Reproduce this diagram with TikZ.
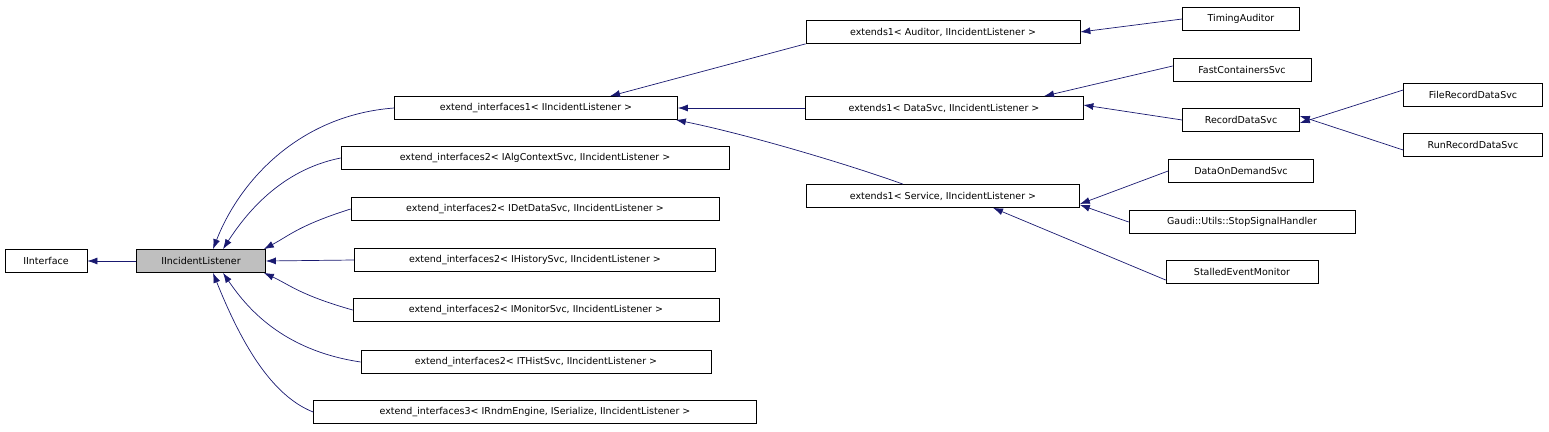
\documentclass[tikz,border=0pt]{standalone}
\usepackage{fontspec}
\setmainfont{DejaVu Sans}
\usetikzlibrary{arrows.meta}
\definecolor{edgec}{RGB}{25,25,112}
\begin{document}
\begin{tikzpicture}[x=1pt,y=-1pt,
  box/.style={draw=black,fill=white,inner sep=0pt,font=\fontsize{9.5}{11}\selectfont,minimum height=23pt,line width=0.7pt},
  edge/.style={draw=edgec,line width=0.7pt,-{Latex[length=10pt,width=7pt]}}]
\useasboundingbox (0,0) rectangle (1549,431);
\newcommand\bx[5]{\node[box,minimum width=#4pt] (#1) at (#2,#3) {#5};}
\bx{ii}{46}{261}{82}{IInterface}
\node[box,minimum width=129pt,fill={rgb,255:red,191;green,191;blue,191}] (il) at (201,261) {IIncidentListener};
\bx{ei1}{536}{108}{283}{extend\_interfaces1< IIncidentListener >}
\bx{eac}{535}{158}{388}{extend\_interfaces2< IAlgContextSvc, IIncidentListener >}
\bx{edd}{535}{209}{368}{extend\_interfaces2< IDetDataSvc, IIncidentListener >}
\bx{ehs}{535}{260}{361}{extend\_interfaces2< IHistorySvc, IIncidentListener >}
\bx{ems}{536}{310}{366}{extend\_interfaces2< IMonitorSvc, IIncidentListener >}
\bx{eth}{536}{362}{350}{extend\_interfaces2< ITHistSvc, IIncidentListener >}
\bx{ei3}{535}{412}{443}{extend\_interfaces3< IRndmEngine, ISerialize, IIncidentListener >}
\bx{eau}{943}{32}{274}{extends1< Auditor, IIncidentListener >}
\bx{eds}{944}{108}{278}{extends1< DataSvc, IIncidentListener >}
\bx{esv}{943}{196}{273}{extends1< Service, IIncidentListener >}
\bx{ta}{1241}{19}{117}{TimingAuditor}
\bx{fc}{1242}{70}{138}{FastContainersSvc}
\bx{rd}{1241}{120}{117}{RecordDataSvc}
\bx{frd}{1473}{95}{139}{FileRecordDataSvc}
\bx{rrd}{1473}{145}{139}{RunRecordDataSvc}
\bx{dod}{1241}{171}{145}{DataOnDemandSvc}
\bx{ssh}{1242}{222}{226}{Gaudi::Utils::StopSignalHandler}
\bx{sem}{1242}{272}{152}{StalledEventMonitor}
% edges
\draw[edge] (il) -- (ii);
\draw[edge] (ei1.west) .. controls (300,115) and (240,180) .. ([xshift=12pt]il.north);
\draw[edge] (eac.west) .. controls (280,170) and (245,215) .. ([xshift=22pt]il.north);
\draw[edge] (edd.west) .. controls (300,225) and (290,235) .. ([xshift=-2pt]il.north east);
\draw[edge] (ehs.west) -- (il.east);
\draw[edge] (ems.west) .. controls (300,295) and (290,285) .. ([xshift=-2pt]il.south east);
\draw[edge] (eth.west) .. controls (280,350) and (245,305) .. ([xshift=22pt]il.south);
\draw[edge] (ei3.west) .. controls (270,395) and (240,340) .. ([xshift=12pt]il.south);
\draw[edge] (eau.south west) -- ([xshift=74pt]ei1.north);
\draw[edge] (eds.west) -- (ei1.east);
\draw[edge] ([xshift=-40pt]esv.north) .. controls (850,165) and (750,135) .. ([xshift=-2pt]ei1.south east);
\draw[edge] (ta.west) -- (eau.east);
\draw[edge] ([yshift=4pt]fc.west) -- ([xshift=100pt]eds.north);
\draw[edge] (rd.west) -- ([yshift=3pt]eds.east);
\draw[edge] ([yshift=5pt]frd.west) -- ([yshift=-3pt]rd.east);
\draw[edge] ([yshift=-5pt]rrd.west) -- ([yshift=4pt]rd.east);
\draw[edge] (dod.west) -- ([yshift=-8pt]esv.east);
\draw[edge] (ssh.west) -- ([yshift=3pt]esv.south east);
\draw[edge] ([yshift=-8pt]sem.west) -- ([xshift=50pt]esv.south);
\end{tikzpicture}
\end{document}
